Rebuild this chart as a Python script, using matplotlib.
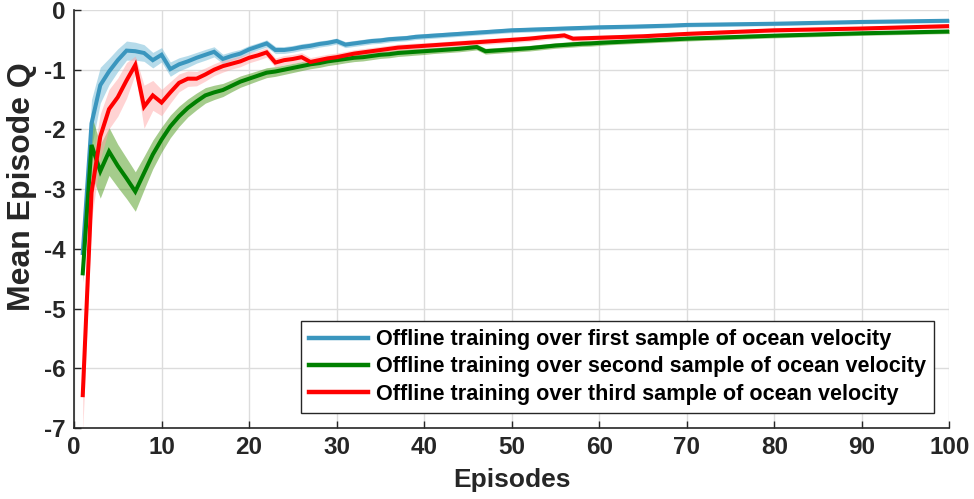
import matplotlib
matplotlib.use("Agg")
import matplotlib.pyplot as plt
import numpy as np

plt.rcParams['font.family'] = ['Liberation Sans', 'DejaVu Sans']
plt.rcParams['font.weight'] = 'bold'
plt.rcParams['axes.unicode_minus'] = False

episodes = list(range(1, 101))

labels = [
    "Offline training over first sample of ocean velocity",
    "Offline training over second sample of ocean velocity",
    "Offline training over third sample of ocean velocity",
]

blue_mean = [
    -4.07, -1.90, -1.26, -1.03, -0.84, -0.68, -0.69, -0.72, -0.84, -0.75,
    -0.99, -0.91, -0.86, -0.80, -0.75, -0.70, -0.82, -0.77, -0.73, -0.66,
    -0.61, -0.56, -0.67, -0.67, -0.65, -0.62, -0.60, -0.57, -0.55, -0.52,
    -0.58, -0.56, -0.54, -0.52, -0.51, -0.49, -0.48, -0.47, -0.45, -0.44,
    -0.43, -0.42, -0.41, -0.40, -0.39, -0.38, -0.37, -0.36, -0.35, -0.34,
    -0.335, -0.33, -0.325, -0.32, -0.315, -0.31, -0.305, -0.30, -0.295, -0.29,
    -0.287, -0.284, -0.281, -0.278, -0.274, -0.27, -0.266, -0.262, -0.256, -0.25,
    -0.248, -0.246, -0.244, -0.242, -0.240, -0.238, -0.236, -0.234, -0.232, -0.23,
    -0.227, -0.224, -0.221, -0.218, -0.215, -0.212, -0.209, -0.206, -0.203, -0.20,
    -0.198, -0.196, -0.194, -0.192, -0.190, -0.188, -0.186, -0.184, -0.182, -0.18,
]

green_mean = [
    -4.41, -2.26, -2.70, -2.37, -2.61, -2.82, -3.04, -2.73, -2.42, -2.17,
    -1.95, -1.78, -1.64, -1.53, -1.43, -1.38, -1.34, -1.27, -1.20, -1.15,
    -1.10, -1.05, -1.03, -1.00, -0.97, -0.94, -0.91, -0.89, -0.86, -0.84,
    -0.82, -0.80, -0.79, -0.77, -0.75, -0.74, -0.72, -0.71, -0.70, -0.69,
    -0.68, -0.67, -0.66, -0.65, -0.635, -0.62, -0.69, -0.68, -0.67, -0.66,
    -0.65, -0.64, -0.625, -0.61, -0.595, -0.585, -0.575, -0.565, -0.56, -0.55,
    -0.543, -0.536, -0.529, -0.522, -0.515, -0.508, -0.501, -0.494, -0.487, -0.48,
    -0.475, -0.47, -0.465, -0.46, -0.455, -0.45, -0.445, -0.44, -0.435, -0.43,
    -0.426, -0.422, -0.418, -0.414, -0.41, -0.406, -0.402, -0.398, -0.394, -0.39,
    -0.387, -0.384, -0.381, -0.378, -0.375, -0.372, -0.369, -0.366, -0.363, -0.36,
]

red_mean = [
    -6.45, -3.06, -2.12, -1.66, -1.46, -1.18, -0.92, -1.62, -1.43, -1.55,
    -1.38, -1.22, -1.15, -1.15, -1.08, -1.00, -0.94, -0.90, -0.86, -0.80,
    -0.76, -0.71, -0.88, -0.84, -0.82, -0.79, -0.87, -0.84, -0.81, -0.79,
    -0.76, -0.73, -0.71, -0.69, -0.67, -0.65, -0.63, -0.62, -0.61, -0.60,
    -0.59, -0.58, -0.57, -0.56, -0.55, -0.54, -0.53, -0.52, -0.51, -0.50,
    -0.49, -0.48, -0.465, -0.45, -0.44, -0.425, -0.48, -0.475, -0.47, -0.465,
    -0.46, -0.455, -0.45, -0.445, -0.44, -0.432, -0.424, -0.416, -0.408, -0.40,
    -0.394, -0.388, -0.382, -0.376, -0.37, -0.364, -0.358, -0.352, -0.346, -0.34,
    -0.337, -0.334, -0.331, -0.328, -0.325, -0.322, -0.319, -0.316, -0.313, -0.31,
    -0.306, -0.302, -0.298, -0.294, -0.29, -0.286, -0.282, -0.278, -0.274, -0.27,
]

blue_spread = [
    0.14, 0.40, 0.30, 0.22, 0.19, 0.16, 0.15, 0.14, 0.13, 0.12,
    0.12, 0.11, 0.10, 0.09, 0.09, 0.085, 0.08, 0.075, 0.07, 0.065,
    0.06, 0.06, 0.06, 0.058, 0.056, 0.055, 0.054, 0.052, 0.051, 0.05,
    0.05, 0.05, 0.049, 0.048, 0.048, 0.047, 0.046, 0.046, 0.045, 0.045,
    0.044, 0.043, 0.042, 0.042, 0.041, 0.041, 0.04, 0.04, 0.04, 0.04,
    0.04, 0.04, 0.04, 0.039, 0.039, 0.038, 0.038, 0.037, 0.037, 0.036,
    0.036, 0.036, 0.035, 0.035, 0.035, 0.035, 0.034, 0.034, 0.034, 0.034,
    0.033, 0.033, 0.033, 0.033, 0.032, 0.032, 0.032, 0.032, 0.032, 0.031,
    0.031, 0.031, 0.031, 0.031, 0.03, 0.03, 0.03, 0.03, 0.03, 0.03,
    0.03, 0.03, 0.03, 0.03, 0.03, 0.03, 0.03, 0.03, 0.03, 0.03,
]

green_spread = [
    0.15, 0.50, 0.45, 0.40, 0.36, 0.34, 0.33, 0.28, 0.24, 0.21,
    0.19, 0.17, 0.15, 0.14, 0.13, 0.12, 0.11, 0.10, 0.095, 0.09,
    0.085, 0.083, 0.081, 0.079, 0.077, 0.075, 0.074, 0.072, 0.071, 0.07,
    0.065, 0.064, 0.063, 0.062, 0.061, 0.06, 0.059, 0.058, 0.056, 0.055,
    0.05, 0.05, 0.05, 0.05, 0.05, 0.049, 0.049, 0.048, 0.048, 0.048,
    0.047, 0.047, 0.047, 0.046, 0.046, 0.046, 0.046, 0.045, 0.045, 0.045,
    0.04, 0.04, 0.04, 0.04, 0.04, 0.04, 0.04, 0.04, 0.04, 0.04,
    0.039, 0.039, 0.039, 0.038, 0.038, 0.038, 0.038, 0.037, 0.037, 0.037,
    0.037, 0.036, 0.036, 0.036, 0.036, 0.036, 0.035, 0.035, 0.035, 0.035,
    0.035, 0.035, 0.035, 0.035, 0.035, 0.035, 0.035, 0.035, 0.035, 0.035,
]

red_spread = [
    0.60, 0.45, 0.38, 0.33, 0.32, 0.30, 0.15, 0.36, 0.25, 0.22,
    0.18, 0.15, 0.13, 0.12, 0.11, 0.10, 0.10, 0.09, 0.09, 0.085,
    0.08, 0.08, 0.078, 0.077, 0.076, 0.075, 0.074, 0.072, 0.071, 0.07,
    0.065, 0.064, 0.063, 0.062, 0.061, 0.06, 0.059, 0.058, 0.056, 0.055,
    0.05, 0.05, 0.05, 0.05, 0.05, 0.049, 0.049, 0.048, 0.048, 0.048,
    0.047, 0.047, 0.047, 0.046, 0.046, 0.046, 0.046, 0.045, 0.045, 0.045,
    0.044, 0.044, 0.043, 0.043, 0.042, 0.042, 0.041, 0.041, 0.04, 0.04,
    0.04, 0.04, 0.039, 0.039, 0.039, 0.038, 0.038, 0.038, 0.038, 0.037,
    0.037, 0.037, 0.037, 0.036, 0.036, 0.036, 0.036, 0.036, 0.035, 0.035,
    0.035, 0.035, 0.035, 0.035, 0.035, 0.035, 0.035, 0.035, 0.035, 0.035,
]

line_colors = ['#3A96BE', '#008000', '#FF0000']
band_colors = ['#6FB9D6', '#4C9A1A', '#FFA8A8']

x_ticks = [0, 10, 20, 30, 40, 50, 60, 70, 80, 90, 100]
y_ticks = [0, -1, -2, -3, -4, -5, -6, -7]
y_tick_labels = ['0', '-1', '-2', '-3', '-4', '-5', '-6', '-7']

fig = plt.figure(figsize=(9.74, 4.99), dpi=100)
ax = fig.add_axes([74 / 974, 71 / 499, 875.5 / 974, 418 / 499])

x = np.array(episodes)
series = [(blue_mean, blue_spread), (green_mean, green_spread), (red_mean, red_spread)]
for (m, s), lc, bc, lab in zip(series, line_colors, band_colors, labels):
    m = np.array(m)
    s = np.array(s)
    ax.fill_between(x, m - s, m + s, color=bc, alpha=0.5, linewidth=0)
    ax.plot(x, m, color=lc, linewidth=2.9, label=lab, solid_joinstyle='miter')

ax.set_xlim(0, 100)
ax.set_ylim(-7, 0)
ax.set_xticks(x_ticks)
ax.set_xticklabels([str(t) for t in x_ticks])
ax.set_yticks(y_ticks)
ax.set_yticklabels(y_tick_labels)

ax.grid(True, color='#DCDCDC', linewidth=1.0)
ax.set_axisbelow(True)
for side in ['top', 'right']:
    ax.spines[side].set_visible(False)
for side in ['left', 'bottom']:
    ax.spines[side].set_color('#262626')
    ax.spines[side].set_linewidth(1.2)

ax.tick_params(direction='in', length=5, width=1, color='#262626',
               labelsize=17.5, pad=6, labelcolor='#262626')
for lab in ax.get_xticklabels() + ax.get_yticklabels():
    lab.set_fontweight('bold')

ax.set_xlabel('Episodes', fontsize=19, fontweight='bold', color='#262626', labelpad=6)
ax.set_ylabel('Mean Episode Q', fontsize=23, fontweight='bold', color='#262626')
ax.yaxis.set_label_coords(-0.042, 0.578)

leg = ax.legend(loc='lower right', bbox_to_anchor=(0.982, 0.036),
                prop={'weight': 'bold', 'size': 15.6}, frameon=True, fancybox=False,
                edgecolor='#262626', framealpha=1, handlelength=2.75,
                handletextpad=0.33, labelspacing=0.29, borderpad=0.38,
                borderaxespad=0)
leg.get_frame().set_linewidth(1.0)
for line in leg.get_lines():
    line.set_linewidth(3.2)

fig.savefig('out.png', dpi=100)
